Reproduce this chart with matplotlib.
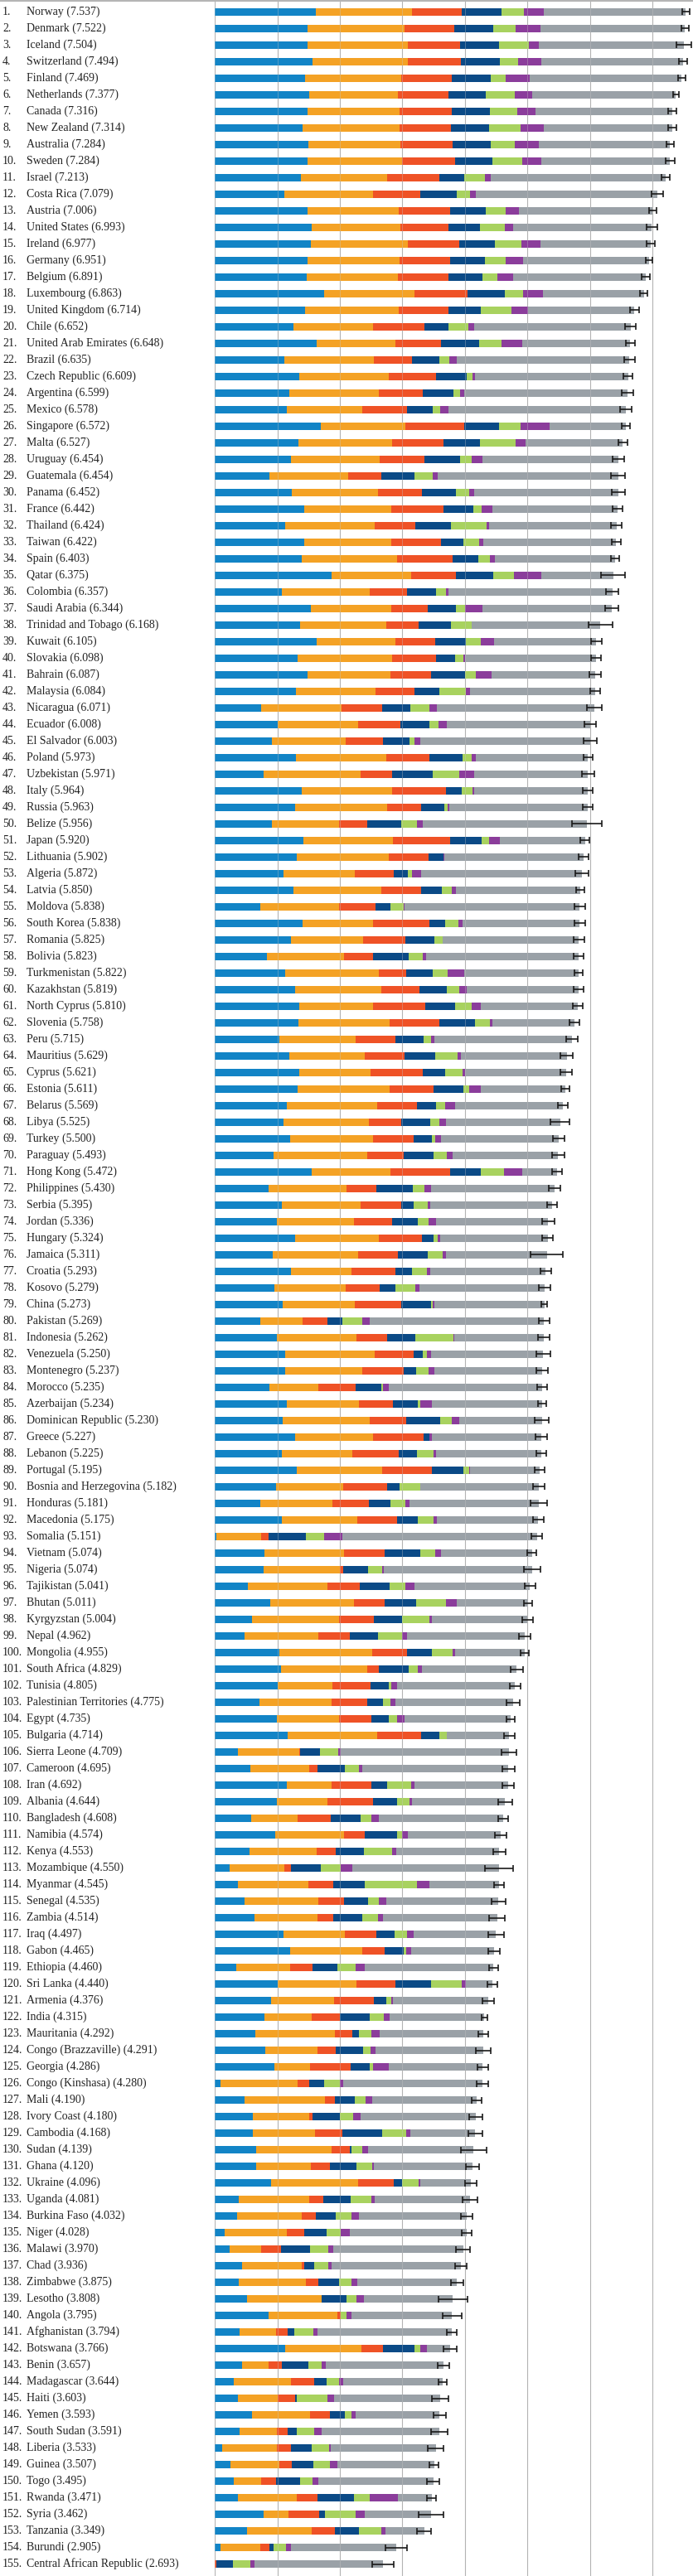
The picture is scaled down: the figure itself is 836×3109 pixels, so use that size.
import numpy as np
import matplotlib
matplotlib.use("Agg")
import matplotlib.pyplot as plt
from matplotlib import transforms
from matplotlib.lines import Line2D

countries = [
    "Norway", "Denmark", "Iceland", "Switzerland", "Finland", "Netherlands", "Canada",
    "New Zealand", "Australia", "Sweden", "Israel", "Costa Rica", "Austria", "United States",
    "Ireland", "Germany", "Belgium", "Luxembourg", "United Kingdom", "Chile",
    "United Arab Emirates", "Brazil", "Czech Republic", "Argentina", "Mexico", "Singapore",
    "Malta", "Uruguay", "Guatemala", "Panama", "France", "Thailand", "Taiwan", "Spain",
    "Qatar", "Colombia", "Saudi Arabia", "Trinidad and Tobago", "Kuwait", "Slovakia",
    "Bahrain", "Malaysia", "Nicaragua", "Ecuador", "El Salvador", "Poland", "Uzbekistan",
    "Italy", "Russia", "Belize", "Japan", "Lithuania", "Algeria", "Latvia", "Moldova",
    "South Korea", "Romania", "Bolivia", "Turkmenistan", "Kazakhstan", "North Cyprus",
    "Slovenia", "Peru", "Mauritius", "Cyprus", "Estonia", "Belarus", "Libya", "Turkey",
    "Paraguay", "Hong Kong", "Philippines", "Serbia", "Jordan", "Hungary", "Jamaica",
    "Croatia", "Kosovo", "China", "Pakistan", "Indonesia", "Venezuela", "Montenegro",
    "Morocco", "Azerbaijan", "Dominican Republic", "Greece", "Lebanon", "Portugal",
    "Bosnia and Herzegovina", "Honduras", "Macedonia", "Somalia", "Vietnam", "Nigeria",
    "Tajikistan", "Bhutan", "Kyrgyzstan", "Nepal", "Mongolia", "South Africa", "Tunisia",
    "Palestinian Territories", "Egypt", "Bulgaria", "Sierra Leone", "Cameroon", "Iran",
    "Albania", "Bangladesh", "Namibia", "Kenya", "Mozambique", "Myanmar", "Senegal",
    "Zambia", "Iraq", "Gabon", "Ethiopia", "Sri Lanka", "Armenia", "India", "Mauritania",
    "Congo (Brazzaville)", "Georgia", "Congo (Kinshasa)", "Mali", "Ivory Coast", "Cambodia",
    "Sudan", "Ghana", "Ukraine", "Uganda", "Burkina Faso", "Niger", "Malawi", "Chad",
    "Zimbabwe", "Lesotho", "Angola", "Afghanistan", "Botswana", "Benin", "Madagascar",
    "Haiti", "Yemen", "South Sudan", "Liberia", "Guinea", "Togo", "Rwanda", "Syria",
    "Tanzania", "Burundi", "Central African Republic",
]

score = [
    7.537, 7.522, 7.504, 7.494, 7.469, 7.377, 7.316, 7.314, 7.284, 7.284,
    7.213, 7.079, 7.006, 6.993, 6.977, 6.951, 6.891, 6.863, 6.714, 6.652,
    6.648, 6.635, 6.609, 6.599, 6.578, 6.572, 6.527, 6.454, 6.454, 6.452,
    6.442, 6.424, 6.422, 6.403, 6.375, 6.357, 6.344, 6.168, 6.105, 6.098,
    6.087, 6.084, 6.071, 6.008, 6.003, 5.973, 5.971, 5.964, 5.963, 5.956,
    5.920, 5.902, 5.872, 5.850, 5.838, 5.838, 5.825, 5.823, 5.822, 5.819,
    5.810, 5.758, 5.715, 5.629, 5.621, 5.611, 5.569, 5.525, 5.500, 5.493,
    5.472, 5.430, 5.395, 5.336, 5.324, 5.311, 5.293, 5.279, 5.273, 5.269,
    5.262, 5.250, 5.237, 5.235, 5.234, 5.230, 5.227, 5.225, 5.195, 5.182,
    5.181, 5.175, 5.151, 5.074, 5.074, 5.041, 5.011, 5.004, 4.962, 4.955,
    4.829, 4.805, 4.775, 4.735, 4.714, 4.709, 4.695, 4.692, 4.644, 4.608,
    4.574, 4.553, 4.550, 4.545, 4.535, 4.514, 4.497, 4.465, 4.460, 4.440,
    4.376, 4.315, 4.292, 4.291, 4.286, 4.280, 4.190, 4.180, 4.168, 4.139,
    4.120, 4.096, 4.081, 4.032, 4.028, 3.970, 3.936, 3.875, 3.808, 3.795,
    3.794, 3.766, 3.657, 3.644, 3.603, 3.593, 3.591, 3.533, 3.507, 3.495,
    3.471, 3.462, 3.349, 2.905, 2.693,
]

whisker_low = [
    7.480, 7.462, 7.386, 7.426, 7.410, 7.327, 7.248, 7.248, 7.224, 7.211,
    7.146, 6.990, 6.941, 6.911, 6.911, 6.897, 6.826, 6.802, 6.644, 6.565,
    6.574, 6.545, 6.534, 6.508, 6.485, 6.507, 6.456, 6.362, 6.341, 6.347,
    6.366, 6.339, 6.350, 6.331, 6.182, 6.261, 6.238, 5.977, 6.018, 6.013,
    5.995, 6.007, 5.955, 5.916, 5.897, 5.900, 5.876, 5.887, 5.884, 5.715,
    5.848, 5.824, 5.766, 5.781, 5.753, 5.756, 5.739, 5.741, 5.759, 5.734,
    5.731, 5.680, 5.618, 5.532, 5.527, 5.542, 5.492, 5.373, 5.405, 5.391,
    5.394, 5.336, 5.313, 5.241, 5.238, 5.052, 5.209, 5.187, 5.227, 5.179,
    5.172, 5.137, 5.139, 5.152, 5.165, 5.113, 5.135, 5.142, 5.117, 5.088,
    5.049, 5.092, 5.060, 5.001, 4.938, 4.954, 4.940, 4.921, 4.870, 4.888,
    4.728, 4.723, 4.672, 4.670, 4.625, 4.592, 4.594, 4.595, 4.536, 4.527,
    4.486, 4.450, 4.326, 4.470, 4.422, 4.389, 4.372, 4.373, 4.381, 4.357,
    4.284, 4.274, 4.212, 4.172, 4.198, 4.187, 4.110, 4.075, 4.057, 3.932,
    4.018, 4.007, 3.966, 3.939, 3.944, 3.862, 3.838, 3.771, 3.572, 3.638,
    3.714, 3.658, 3.568, 3.574, 3.471, 3.493, 3.456, 3.412, 3.430, 3.396,
    3.399, 3.260, 3.237, 2.735, 2.521,
]

whisker_high = [
    7.594, 7.582, 7.622, 7.562, 7.528, 7.427, 7.384, 7.380, 7.344, 7.357,
    7.280, 7.168, 7.071, 7.075, 7.043, 7.005, 6.956, 6.924, 6.784, 6.739,
    6.722, 6.725, 6.684, 6.690, 6.671, 6.637, 6.598, 6.546, 6.567, 6.557,
    6.518, 6.509, 6.494, 6.475, 6.568, 6.453, 6.450, 6.359, 6.192, 6.183,
    6.179, 6.161, 6.187, 6.100, 6.109, 6.046, 6.066, 6.041, 6.042, 6.197,
    5.992, 5.980, 5.978, 5.919, 5.923, 5.920, 5.911, 5.905, 5.885, 5.904,
    5.889, 5.836, 5.812, 5.726, 5.715, 5.680, 5.646, 5.677, 5.595, 5.595,
    5.550, 5.524, 5.477, 5.431, 5.410, 5.570, 5.377, 5.371, 5.319, 5.359,
    5.352, 5.363, 5.335, 5.318, 5.303, 5.347, 5.319, 5.308, 5.273, 5.276,
    5.313, 5.258, 5.242, 5.147, 5.210, 5.128, 5.082, 5.087, 5.054, 5.022,
    4.930, 4.887, 4.878, 4.800, 4.803, 4.826, 4.796, 4.789, 4.752, 4.689,
    4.662, 4.656, 4.774, 4.620, 4.648, 4.639, 4.622, 4.557, 4.539, 4.523,
    4.468, 4.356, 4.372, 4.410, 4.374, 4.373, 4.270, 4.285, 4.279, 4.346,
    4.222, 4.185, 4.196, 4.125, 4.112, 4.078, 4.034, 3.979, 4.044, 3.952,
    3.874, 3.874, 3.746, 3.714, 3.735, 3.693, 3.726, 3.654, 3.584, 3.594,
    3.543, 3.664, 3.461, 3.075, 2.865,
]

gdp = [
    1.616, 1.482, 1.481, 1.565, 1.444, 1.504, 1.479, 1.406, 1.494, 1.484,
    1.375, 1.110, 1.487, 1.546, 1.536, 1.488, 1.464, 1.742, 1.442, 1.253,
    1.626, 1.107, 1.353, 1.185, 1.153, 1.692, 1.343, 1.218, 0.872, 1.234,
    1.431, 1.128, 1.434, 1.384, 1.871, 1.071, 1.531, 1.361, 1.633, 1.325,
    1.488, 1.291, 0.737, 1.001, 0.910, 1.292, 0.786, 1.395, 1.282, 0.908,
    1.417, 1.315, 1.092, 1.261, 0.729, 1.402, 1.218, 0.834, 1.131, 1.285,
    1.347, 1.341, 1.035, 1.189, 1.356, 1.321, 1.157, 1.102, 1.198, 0.933,
    1.552, 0.858, 1.069, 0.991, 1.286, 0.926, 1.223, 0.951, 1.081, 0.727,
    0.996, 1.128, 1.121, 0.878, 1.154, 1.079, 1.289, 1.075, 1.315, 0.982,
    0.731, 1.065, 0.023, 0.789, 0.784, 0.524, 0.885, 0.596, 0.480, 1.027,
    1.055, 1.007, 0.716, 0.990, 1.161, 0.368, 0.564, 1.157, 0.996, 0.587,
    0.964, 0.560, 0.234, 0.367, 0.479, 0.636, 1.103, 1.198, 0.339, 1.010,
    0.901, 0.792, 0.648, 0.809, 0.951, 0.092, 0.476, 0.603, 0.602, 0.660,
    0.667, 0.895, 0.381, 0.350, 0.162, 0.233, 0.438, 0.376, 0.521, 0.858,
    0.401, 1.122, 0.431, 0.306, 0.369, 0.592, 0.397, 0.119, 0.245, 0.305,
    0.369, 0.777, 0.511, 0.092, 0.000,
]

social = [
    1.534, 1.551, 1.611, 1.517, 1.540, 1.429, 1.481, 1.548, 1.478, 1.510,
    1.376, 1.416, 1.460, 1.420, 1.558, 1.473, 1.462, 1.458, 1.496, 1.284,
    1.266, 1.431, 1.434, 1.440, 1.211, 1.354, 1.488, 1.412, 1.256, 1.373,
    1.388, 1.426, 1.385, 1.532, 1.274, 1.402, 1.287, 1.380, 1.260, 1.505,
    1.323, 1.285, 1.287, 1.286, 1.182, 1.446, 1.549, 1.445, 1.469, 1.081,
    1.436, 1.474, 1.146, 1.405, 1.252, 1.128, 1.150, 1.228, 1.493, 1.384,
    1.186, 1.453, 1.219, 1.210, 1.131, 1.477, 1.445, 1.358, 1.338, 1.507,
    1.263, 1.254, 1.258, 1.239, 1.343, 1.368, 0.968, 1.138, 1.161, 0.673,
    1.274, 1.431, 1.238, 0.775, 1.152, 1.402, 1.239, 1.130, 1.367, 1.069,
    1.144, 1.208, 0.721, 1.277, 1.216, 1.271, 1.340, 1.394, 1.180, 1.493,
    1.385, 0.868, 1.156, 0.997, 1.434, 0.984, 0.946, 0.712, 0.804, 0.735,
    1.098, 1.068, 0.871, 1.123, 1.180, 1.003, 0.979, 1.156, 0.865, 1.260,
    1.007, 0.754, 1.272, 0.832, 0.571, 1.229, 1.281, 0.905, 1.006, 1.214,
    0.874, 1.395, 1.130, 1.043, 0.993, 0.513, 0.954, 1.083, 1.190, 1.104,
    0.582, 1.222, 0.435, 0.913, 0.640, 0.935, 0.601, 0.872, 0.791, 0.432,
    0.946, 0.396, 1.042, 0.630, 0.000,
]

health = [
    0.797, 0.793, 0.834, 0.858, 0.809, 0.811, 0.835, 0.817, 0.831, 0.844,
    0.838, 0.760, 0.815, 0.774, 0.810, 0.799, 0.818, 0.845, 0.805, 0.819,
    0.727, 0.617, 0.754, 0.695, 0.710, 0.949, 0.822, 0.719, 0.540, 0.706,
    0.844, 0.647, 0.794, 0.889, 0.710, 0.595, 0.590, 0.520, 0.632, 0.713,
    0.653, 0.619, 0.653, 0.685, 0.596, 0.699, 0.498, 0.853, 0.547, 0.450,
    0.913, 0.629, 0.618, 0.639, 0.589, 0.900, 0.685, 0.474, 0.438, 0.606,
    0.835, 0.791, 0.630, 0.638, 0.845, 0.695, 0.638, 0.520, 0.638, 0.579,
    0.943, 0.468, 0.651, 0.605, 0.688, 0.641, 0.701, 0.541, 0.741, 0.402,
    0.492, 0.617, 0.667, 0.598, 0.541, 0.575, 0.810, 0.736, 0.796, 0.705,
    0.583, 0.645, 0.114, 0.652, 0.057, 0.529, 0.496, 0.553, 0.505, 0.558,
    0.187, 0.613, 0.566, 0.520, 0.708, 0.006, 0.133, 0.639, 0.731, 0.533,
    0.339, 0.310, 0.107, 0.398, 0.409, 0.258, 0.501, 0.357, 0.353, 0.625,
    0.638, 0.455, 0.285, 0.290, 0.650, 0.191, 0.169, 0.049, 0.430, 0.291,
    0.296, 0.576, 0.218, 0.216, 0.269, 0.315, 0.041, 0.197, 0.000, 0.050,
    0.181, 0.342, 0.210, 0.375, 0.277, 0.310, 0.163, 0.230, 0.194, 0.247,
    0.326, 0.501, 0.365, 0.152, 0.019,
]

freedom = [
    0.635, 0.626, 0.627, 0.620, 0.618, 0.585, 0.611, 0.614, 0.613, 0.602,
    0.406, 0.580, 0.568, 0.506, 0.573, 0.563, 0.540, 0.597, 0.508, 0.377,
    0.608, 0.437, 0.491, 0.495, 0.413, 0.550, 0.589, 0.579, 0.531, 0.550,
    0.470, 0.580, 0.361, 0.409, 0.604, 0.477, 0.450, 0.519, 0.496, 0.296,
    0.537, 0.402, 0.448, 0.455, 0.432, 0.520, 0.658, 0.256, 0.374, 0.548,
    0.506, 0.234, 0.233, 0.326, 0.241, 0.258, 0.457, 0.559, 0.418, 0.437,
    0.471, 0.573, 0.450, 0.491, 0.355, 0.479, 0.295, 0.466, 0.301, 0.474,
    0.491, 0.585, 0.209, 0.418, 0.176, 0.474, 0.256, 0.260, 0.473, 0.235,
    0.443, 0.154, 0.195, 0.408, 0.398, 0.553, 0.096, 0.289, 0.498, 0.204,
    0.348, 0.326, 0.602, 0.571, 0.395, 0.472, 0.502, 0.455, 0.440, 0.394,
    0.479, 0.290, 0.254, 0.282, 0.289, 0.319, 0.430, 0.249, 0.381, 0.478,
    0.520, 0.453, 0.481, 0.514, 0.378, 0.462, 0.289, 0.312, 0.409, 0.561,
    0.198, 0.470, 0.096, 0.435, 0.309, 0.236, 0.307, 0.448, 0.633, 0.015,
    0.423, 0.123, 0.443, 0.324, 0.364, 0.467, 0.162, 0.336, 0.391, 0.000,
    0.106, 0.505, 0.426, 0.189, 0.030, 0.249, 0.147, 0.333, 0.349, 0.380,
    0.582, 0.082, 0.390, 0.060, 0.271,
]

generosity = [
    0.362, 0.355, 0.476, 0.291, 0.245, 0.470, 0.436, 0.500, 0.385, 0.478,
    0.330, 0.215, 0.316, 0.393, 0.428, 0.336, 0.232, 0.283, 0.493, 0.327,
    0.361, 0.162, 0.088, 0.109, 0.121, 0.346, 0.575, 0.175, 0.283, 0.211,
    0.130, 0.572, 0.258, 0.190, 0.330, 0.149, 0.148, 0.325, 0.228, 0.137,
    0.173, 0.417, 0.302, 0.150, 0.078, 0.158, 0.416, 0.173, 0.052, 0.240,
    0.121, 0.010, 0.069, 0.153, 0.209, 0.207, 0.134, 0.226, 0.250, 0.202,
    0.267, 0.243, 0.127, 0.361, 0.271, 0.099, 0.155, 0.152, 0.047, 0.224,
    0.374, 0.194, 0.220, 0.172, 0.078, 0.234, 0.248, 0.320, 0.029, 0.315,
    0.612, 0.065, 0.198, 0.032, 0.045, 0.187, 0.000, 0.264, 0.095, 0.329,
    0.236, 0.254, 0.292, 0.235, 0.231, 0.249, 0.474, 0.429, 0.394, 0.338,
    0.139, 0.050, 0.114, 0.129, 0.113, 0.293, 0.236, 0.387, 0.201, 0.172,
    0.077, 0.445, 0.322, 0.838, 0.183, 0.250, 0.200, 0.044, 0.291, 0.491,
    0.083, 0.232, 0.202, 0.121, 0.054, 0.246, 0.183, 0.201, 0.386, 0.182,
    0.257, 0.270, 0.326, 0.251, 0.229, 0.287, 0.216, 0.189, 0.157, 0.098,
    0.312, 0.099, 0.208, 0.209, 0.489, 0.104, 0.286, 0.267, 0.265, 0.197,
    0.253, 0.494, 0.354, 0.204, 0.281,
]

corruption = [
    0.316, 0.401, 0.154, 0.367, 0.383, 0.283, 0.287, 0.383, 0.384, 0.301,
    0.085, 0.100, 0.221, 0.136, 0.298, 0.277, 0.251, 0.319, 0.265, 0.082,
    0.324, 0.111, 0.037, 0.060, 0.133, 0.464, 0.153, 0.178, 0.077, 0.071,
    0.173, 0.032, 0.064, 0.071, 0.439, 0.047, 0.273, 0.009, 0.215, 0.024,
    0.257, 0.066, 0.131, 0.140, 0.090, 0.059, 0.247, 0.028, 0.033, 0.097,
    0.164, 0.012, 0.146, 0.074, 0.010, 0.063, 0.004, 0.060, 0.259, 0.119,
    0.155, 0.045, 0.047, 0.042, 0.041, 0.183, 0.156, 0.093, 0.100, 0.091,
    0.294, 0.099, 0.041, 0.120, 0.037, 0.053, 0.043, 0.057, 0.023, 0.124,
    0.015, 0.064, 0.088, 0.088, 0.181, 0.114, 0.043, 0.038, 0.016, 0.000,
    0.073, 0.060, 0.282, 0.088, 0.026, 0.146, 0.173, 0.039, 0.073, 0.033,
    0.073, 0.087, 0.089, 0.114, 0.011, 0.039, 0.051, 0.049, 0.040, 0.124,
    0.093, 0.065, 0.179, 0.189, 0.115, 0.078, 0.107, 0.076, 0.139, 0.074,
    0.027, 0.092, 0.137, 0.080, 0.252, 0.060, 0.105, 0.130, 0.068, 0.090,
    0.025, 0.023, 0.057, 0.120, 0.139, 0.073, 0.054, 0.095, 0.119, 0.070,
    0.061, 0.099, 0.061, 0.067, 0.100, 0.057, 0.117, 0.039, 0.111, 0.096,
    0.455, 0.151, 0.066, 0.084, 0.057,
]

dystopia = [
    2.277, 2.314, 2.323, 2.277, 2.430, 2.295, 2.187, 2.046, 2.098, 2.065,
    2.802, 2.899, 2.139, 2.218, 1.774, 2.016, 2.124, 1.620, 1.704, 2.510,
    1.735, 2.769, 2.452, 2.614, 2.837, 1.216, 1.557, 2.172, 2.894, 2.307,
    2.006, 2.040, 2.127, 1.928, 1.145, 2.616, 2.066, 2.054, 1.640, 2.098,
    1.656, 2.004, 2.514, 2.291, 2.715, 1.798, 1.817, 1.814, 2.206, 2.632,
    1.364, 2.228, 2.568, 1.993, 2.808, 1.880, 2.177, 2.443, 1.833, 1.785,
    1.549, 1.313, 2.207, 1.698, 1.621, 1.358, 1.723, 1.835, 1.879, 1.685,
    0.555, 1.973, 1.947, 1.787, 1.717, 1.615, 1.854, 2.011, 1.765, 2.792,
    1.429, 1.789, 1.729, 2.456, 1.762, 1.320, 1.748, 1.694, 1.107, 1.892,
    2.067, 1.617, 3.117, 1.462, 2.365, 1.849, 1.140, 1.537, 1.890, 1.111,
    1.511, 1.890, 1.880, 1.702, 0.996, 2.701, 2.334, 1.499, 1.490, 1.979,
    1.482, 1.652, 2.356, 1.115, 1.790, 1.827, 1.319, 1.322, 2.064, 0.419,
    1.521, 1.519, 1.652, 1.724, 1.500, 2.225, 1.668, 1.845, 1.043, 1.688,
    1.578, 0.814, 1.526, 1.727, 1.874, 2.083, 2.071, 1.598, 1.430, 1.614,
    2.151, 0.378, 1.886, 1.585, 1.697, 1.346, 1.880, 1.673, 1.552, 1.837,
    0.540, 1.062, 0.621, 1.683, 2.066,
]

components = [gdp, social, health, freedom, generosity, corruption, dystopia]
colors = ["#1284c6", "#f4a225", "#ef5226", "#0b4a86", "#a8d25f", "#8b3d9b", "#9aa1a7"]

W, H = 836, 3109
fig = plt.figure(figsize=(W / 100, H / 100), dpi=100)

x0_px = 259.2
px_per_unit = 75.4
row_px = 20.0
first_px = 14.5
ax = fig.add_axes([x0_px / W, 0, (W - x0_px) / W, 1])
ax.set_xlim(0, (W - x0_px) / px_per_unit)
ax.set_ylim((H - first_px) / row_px, -first_px / row_px)
ax.axis("off")

y = np.arange(len(countries))
left = np.zeros(len(countries))
for vals, c in zip(components, colors):
    vals = np.array(vals)
    ax.barh(y, vals, left=left, height=0.44, color=c, linewidth=0, zorder=2)
    left += vals

# light grid lines, drawn faintly over the bars like the original
for gx in range(8):
    ax.axvline(gx, color="#a9a9a9", lw=0.8, zorder=1)
    ax.axvline(gx, color="#c8c8c8", lw=0.5, alpha=0.5, zorder=3)

lo = np.array(score) - np.array(whisker_low)
hi = np.array(whisker_high) - np.array(score)
ax.errorbar(score, y, xerr=[lo, hi], fmt="none", ecolor="#1a1a1a",
            elinewidth=1.2, capsize=3.2, capthick=1.2, zorder=4)

# row labels
trans = transforms.blended_transform_factory(fig.transFigure, ax.transData)
for i, name in enumerate(countries):
    fig.text(3 / W, i, f"{i + 1}.", transform=trans, va="center", ha="left",
             fontsize=10, family="Liberation Serif", color="#222222")
    fig.text(32 / W, i, f"{name} ({score[i]:.3f})", transform=trans,
             va="center", ha="left", fontsize=10, family="Liberation Serif",
             color="#222222")

fig.add_artist(Line2D([0, 1], [1 - 1 / H, 1 - 1 / H], transform=fig.transFigure,
                      color="#b5b5b5", lw=1.5))

fig.savefig("out.png", dpi=100)
